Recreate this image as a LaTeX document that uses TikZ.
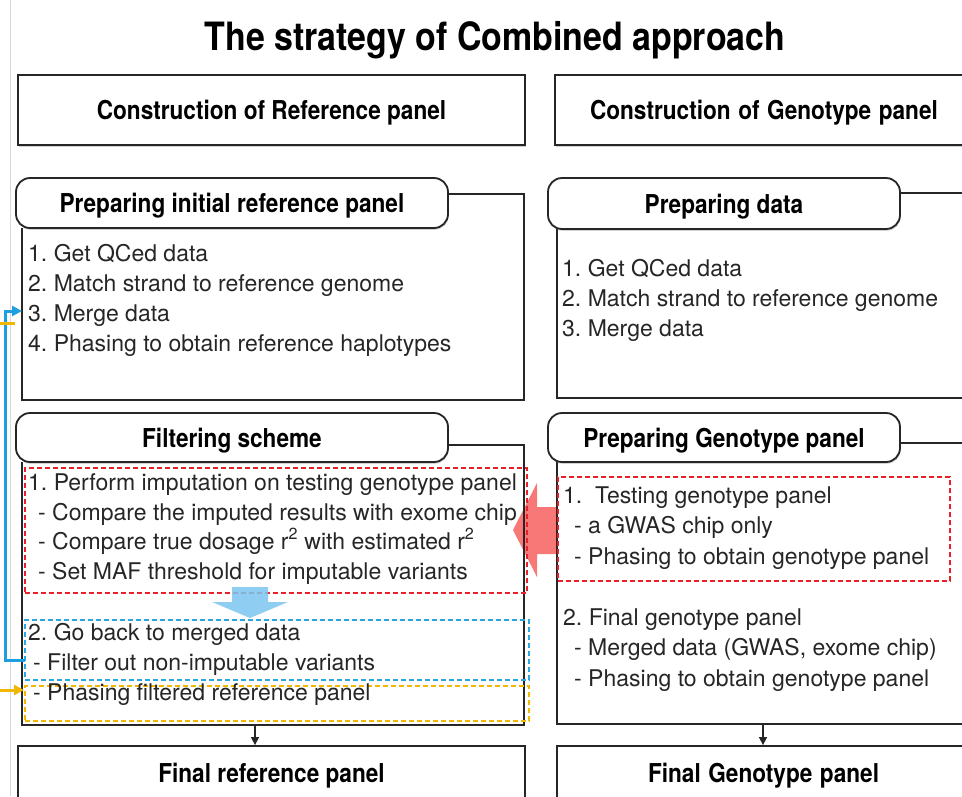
\documentclass[tikz,border=0pt]{standalone}
\usepackage{fontspec}
\setmainfont{TeX Gyre Heros}
\usetikzlibrary{shadows,arrows.meta}
\definecolor{dred}{HTML}{E8202A}
\definecolor{dblue}{HTML}{2AA7DF}
\definecolor{dyel}{HTML}{F2B705}
\definecolor{fatred}{HTML}{F86A6A}
\definecolor{fatblue}{HTML}{7CC6F0}
\definecolor{conblue}{HTML}{1E9FE0}
\newcommand\hx[1]{\scalebox{0.87}[1]{#1}}
\frenchspacing
\tikzset{
  frame/.style={draw=black!85, line width=1.8pt},
  shad/.style={drop shadow={shadow xshift=0.6pt, shadow yshift=-1.8pt, opacity=0.35}},
  bigbox/.style={frame, fill=white, shad, inner sep=0pt, text depth=0pt, font=\fontsize{26}{30}\selectfont\bfseries},
  hdrbox/.style={frame, fill=white, shad, rounded corners=14pt, inner sep=0pt, text depth=0pt, font=\fontsize{26}{30}\selectfont\bfseries},
  txt/.style={anchor=base west, inner sep=0pt, font=\fontsize{23}{27}\selectfont, text=black!85},
  reddash/.style={draw=dred, line width=2pt, dash pattern=on 5pt off 3pt, inner sep=0pt},
  bluedash/.style={draw=dblue, line width=2pt, dash pattern=on 5pt off 3pt, inner sep=0pt},
  yeldash/.style={draw=dyel, line width=2pt, dash pattern=on 5pt off 3pt, inner sep=0pt},
  downarr/.style={draw=black!85, line width=1.4pt, -{Triangle[length=8pt,width=8pt]}},
}
\begin{document}
\begin{tikzpicture}[x=1pt,y=-1pt]
\clip (0,0) rectangle (962,796);
\fill[white] (0,0) rectangle (962,796);
\draw[black!15, line width=0.8pt] (10,0) -- (10,796);

% title
\node[font=\fontsize{39}{44}\selectfont\bfseries, anchor=base, inner sep=0pt] (title) at (495,50) {\hx{The strategy of Combined approach}};

% fat arrows (under everything)
\fill[fatred, opacity=0.9] (557,507) -- (537,507) -- (537,483) -- (513,530) -- (537,577) -- (537,554) -- (557,554) -- cycle;

% top boxes
\node[bigbox, minimum width=507pt, minimum height=70pt] (cref) at (271.5,110) {\hx{Construction of Reference panel}};
\node[bigbox, minimum width=420pt, minimum height=70pt, text width=420pt, align=left] (cgen) at (765,110) {\hspace*{35pt}\hx{Construction of Genotype panel}};

% left column, block 1
\draw[frame] (448,194) -- (524,194) -- (524,400) -- (22,400) -- (22,228);
\node[hdrbox, minimum width=432pt, minimum height=50pt] (ph1) at (232,203) {\hx{Preparing initial reference panel}};
\node[txt] (l1) at (28,261) {1. Get QCed data};
\node[txt] (l2) at (28,291) {2. Match strand to reference genome};
\node[txt] (l3) at (28,321) {3. Merge data};
\node[txt] (l4) at (28,351) {4. Phasing to obtain reference haplotypes};

% right column, block 1
\draw[frame] (900,193) -- (975,193);
\draw[frame] (557,229) -- (557,398) -- (975,398);
\node[hdrbox, minimum width=352pt, minimum height=51pt] (pd) at (724,203.5) {\hx{Preparing data}};
\node[txt] (r1) at (562,276) {1. Get QCed data};
\node[txt] (r2) at (562,306) {2. Match strand to reference genome};
\node[txt] (r3) at (562,336) {3. Merge data};

% left column, filtering
\draw[frame] (448,445) -- (524,445) -- (524,725) -- (22,725) -- (22,462);
\node[hdrbox, minimum width=432pt, minimum height=49pt] (filt) at (232,437.5) {\hx{Filtering scheme}};
\node[reddash, minimum width=502pt, minimum height=125pt] (redL) at (276,530.5) {};
\node[bluedash, minimum width=504pt, minimum height=60pt] (blueL) at (277,650) {};
\node[yeldash, minimum width=504pt, minimum height=35pt] (yelL) at (277,703.5) {};
\node[txt] (f1) at (28,490) {1. Perform imputation on testing genotype panel};
\node[txt] (f2) at (38,520) {- Compare the imputed results with exome chip};
\node[txt] (f3) at (38,549) {- Compare true dosage r\textsuperscript{2} with estimated r\textsuperscript{2}};
\node[txt] (f4) at (38,579) {- Set MAF threshold for imputable variants};
\node[txt] (f5) at (28,640) {2. Go back to merged data};
\node[txt] (f6) at (33,670) {- Filter out non-imputable variants};
\node[txt] (f7) at (33,700) {- Phasing filtered reference panel};

% blue fat down arrow
\fill[fatblue, opacity=0.85] (232,587) -- (268,587) -- (268,602) -- (288,602) -- (250,618) -- (212,602) -- (232,602) -- cycle;

% right column, genotype panel
\draw[frame] (900,443) -- (975,443);
\draw[frame] (557,462) -- (557,724) -- (975,724);
\node[hdrbox, minimum width=352pt, minimum height=49pt] (pg) at (724,437.5) {\hx{Preparing Genotype panel}};
\node[reddash, minimum width=392pt, minimum height=104pt] (redR) at (754,529) {};
\node[txt] (g1) at (563,503) {1.\ \ Testing genotype panel};
\node[txt] (g2) at (574,533) {- a GWAS chip only};
\node[txt] (g3) at (574,564) {- Phasing to obtain genotype panel};
\node[txt] (g4) at (563,625) {2. Final genotype panel};
\node[txt] (g5) at (574,655) {- Merged data (GWAS, exome chip)};
\node[txt] (g6) at (574,686) {- Phasing to obtain genotype panel};

% final boxes
\node[bigbox, minimum width=507pt, minimum height=54pt] (fref) at (271.5,773) {\hx{Final reference panel}};
\node[bigbox, minimum width=418pt, minimum height=54pt, text width=418pt, align=left] (fgen) at (766,773) {\hspace*{91pt}\hx{Final Genotype panel}};

% down arrows
\coordinate (lb) at (255,725);
\coordinate (rb) at (763,724);
\draw[downarr] (lb) -- (lb |- fref.north);
\draw[downarr] (rb) -- (rb |- fgen.north);

% side connectors
\coordinate (bs) at (25,660);
\coordinate (be) at (22,311);
\draw[conblue, line width=3pt, -{Triangle[length=10pt,width=10pt]}] (bs) -- (5,660) -- (5,311) -- (be);
\coordinate (os) at (0,690);
\draw[dyel, line width=3pt, -{Triangle[length=10pt,width=10pt]}] (os) -- (os -| yelL.west);
\coordinate (ot) at (0,323);
\coordinate (ot2) at (15,323);
\draw[dyel, line width=3pt] (ot) -- (ot2);
\end{tikzpicture}
\end{document}
